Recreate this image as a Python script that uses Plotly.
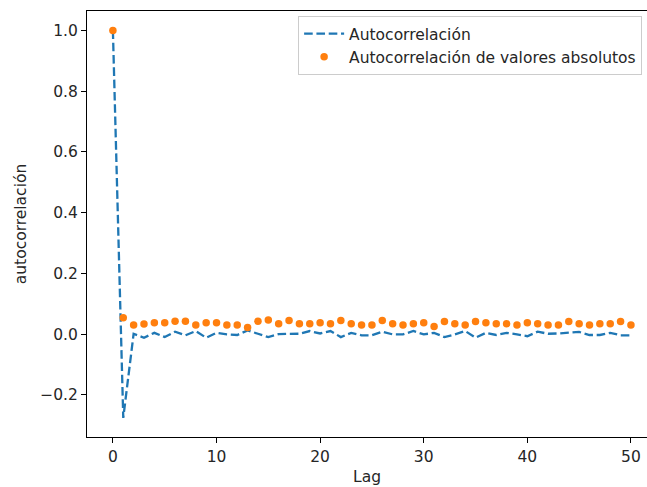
import plotly.graph_objects as go

lags = list(range(51))

acf = [1.0, -0.276, 0.001, -0.012, 0.004, -0.010, 0.008, -0.004, 0.010, -0.012,
       0.004, -0.001, -0.003, 0.012, 0.001, -0.010, 0.000, 0.000, 0.001, 0.010,
       0.002, 0.010, -0.010, 0.004, -0.004, -0.004, 0.008, -0.001, -0.001, 0.010,
       -0.001, 0.004, -0.010, -0.001, 0.010, -0.012, 0.004, -0.003, 0.004, -0.001,
       -0.007, 0.008, 0.001, 0.002, 0.004, 0.007, -0.003, -0.003, 0.004, -0.004,
       -0.004]

acf_abs = [1.0, 0.054, 0.030, 0.033, 0.037, 0.037, 0.042, 0.042, 0.030, 0.037,
           0.037, 0.030, 0.030, 0.022, 0.042, 0.046, 0.034, 0.045, 0.034, 0.034,
           0.037, 0.034, 0.045, 0.034, 0.030, 0.030, 0.045, 0.034, 0.030, 0.034,
           0.037, 0.025, 0.041, 0.034, 0.030, 0.041, 0.037, 0.034, 0.034, 0.030,
           0.037, 0.034, 0.030, 0.030, 0.041, 0.034, 0.030, 0.034, 0.034, 0.041,
           0.030]

x_ticks = [0, 10, 20, 30, 40, 50]
y_ticks = [-0.2, 0.0, 0.2, 0.4, 0.6, 0.8, 1.0]
y_tick_text = ["−0.2", "0.0", "0.2", "0.4", "0.6", "0.8", "1.0"]

font = dict(family="DejaVu Sans", size=15.5, color="#262626")

fig = go.Figure()
fig.add_trace(go.Scatter(
    x=lags, y=acf, mode="lines", name="Autocorrelación",
    line=dict(color="#1f77b4", width=2.3, dash="8.6px,3.7px"),
))
fig.add_trace(go.Scatter(
    x=lags, y=acf_abs, mode="markers", name="Autocorrelación de valores absolutos",
    marker=dict(color="#ff7f0e", size=7.5, line=dict(width=0)),
))

fig.update_layout(
    width=647, height=487,
    margin=dict(l=87, r=0, t=11, b=50, autoexpand=False),
    plot_bgcolor="white", paper_bgcolor="white",
    font=font,
    hovermode=False,
    legend=dict(
        x=0.377, y=0.988, xanchor="left", yanchor="top",
        itemwidth=40,
        bgcolor="rgba(255,255,255,0.8)", bordercolor="#cccccc", borderwidth=1,
        font=font,
    ),
    xaxis=dict(
        range=[-2.5, 51.55], tickvals=x_ticks, ticktext=[str(v) for v in x_ticks],
        showgrid=False, zeroline=False, showline=True, linecolor="black", linewidth=1,
        mirror=True, ticks="outside", ticklen=5, tickcolor="black", tickwidth=1,
        automargin=False,
        title=dict(text="Lag", standoff=6, font=font),
    ),
    yaxis=dict(
        range=[-0.339, 1.064], tickvals=y_ticks, ticktext=y_tick_text,
        showgrid=False, zeroline=False, showline=True, linecolor="black", linewidth=1,
        mirror=False, ticks="outside", ticklen=5, tickcolor="black", tickwidth=1,
        automargin=False,
        title=dict(text="autocorrelación", standoff=9, font=font),
    ),
)

fig.write_html("out.html")
